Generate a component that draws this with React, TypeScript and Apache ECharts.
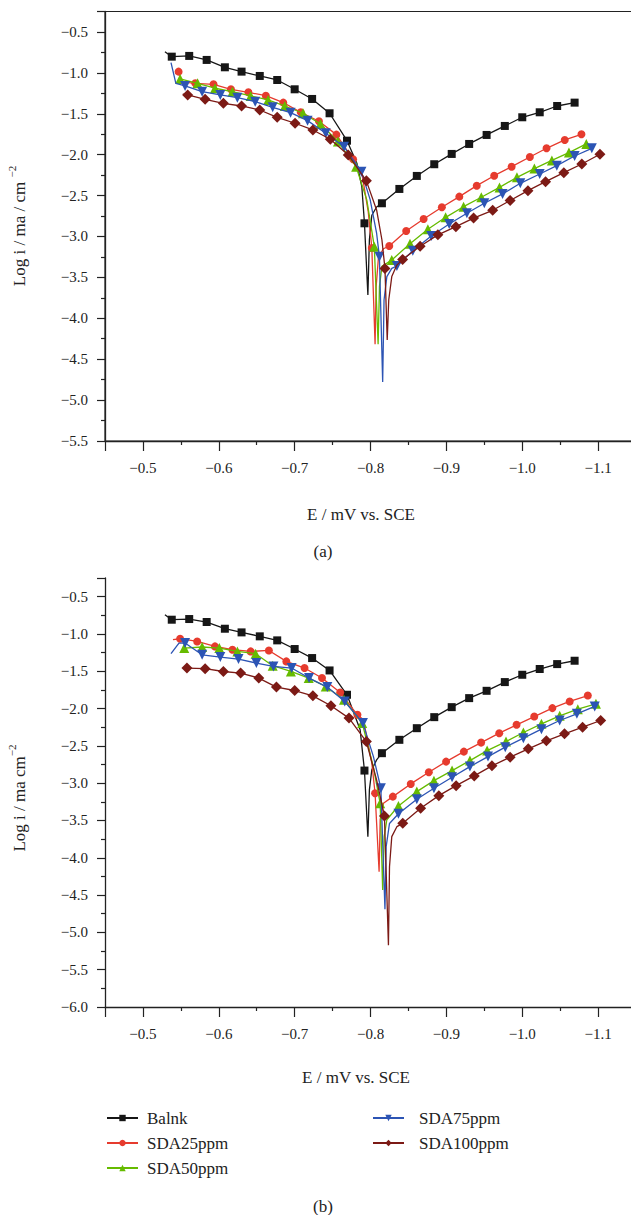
import React, { useEffect, useRef } from "react";
import * as echarts from "echarts";

// ---------- Data (E in V vs SCE, log i) ----------
const seriesNames = ["Balnk", "SDA25ppm", "SDA50ppm", "SDA75ppm", "SDA100ppm"];
const xTicks = [-1.2, -0.45, 0.1]; // min, max, interval
const yTicksA = [-5.5, -0.25, 0.5];
const yTicksB = [-6.0, -0.25, 0.5];

// Panel (a)
const blankA_marks = [[-0.538,-0.802],[-0.561,-0.793],[-0.584,-0.842],[-0.608,-0.932],[-0.630,-0.985],[-0.654,-1.038],[-0.677,-1.087],[-0.700,-1.201],[-0.723,-1.319],[-0.746,-1.494],[-0.769,-1.829],[-0.792,-2.839],[-0.815,-2.594],[-0.838,-2.419],[-0.861,-2.260],[-0.884,-2.117],[-0.907,-1.991],[-0.930,-1.869],[-0.953,-1.759],[-0.977,-1.649],[-1.000,-1.543],[-1.023,-1.482],[-1.046,-1.405],[-1.069,-1.364]];
const blankA_line = [[-0.529,-0.741],[-0.782,-2.105],[-0.7885,-2.39],[-0.7965,-3.715],[-0.7985,-3.04],[-0.8017,-2.74],[-0.808,-2.64]];
const redA_marks = [[-0.547,-0.985],[-0.569,-1.128],[-0.593,-1.140],[-0.616,-1.201],[-0.639,-1.238],[-0.662,-1.279],[-0.685,-1.364],[-0.708,-1.482],[-0.732,-1.592],[-0.755,-1.755],[-0.777,-2.056],[-0.8017,-3.14],[-0.8247,-3.116],[-0.847,-2.933],[-0.870,-2.786],[-0.894,-2.643],[-0.917,-2.513],[-0.940,-2.379],[-0.963,-2.257],[-0.986,-2.147],[-1.010,-2.028],[-1.032,-1.922],[-1.056,-1.820],[-1.078,-1.751]];
const redA_line = [[-0.5513,-1.11],[-0.789,-2.25],[-0.797,-2.7],[-0.806,-4.318],[-0.8074,-3.61],[-0.8105,-3.25],[-0.817,-3.15]];
const greenA_marks = [[-0.549,-1.075],[-0.572,-1.128],[-0.595,-1.188],[-0.618,-1.230],[-0.642,-1.282],[-0.665,-1.331],[-0.687,-1.405],[-0.711,-1.494],[-0.734,-1.625],[-0.757,-1.84],[-0.781,-2.147],[-0.805,-3.125],[-0.828,-3.287],[-0.852,-3.09],[-0.8756,-2.912],[-0.899,-2.766],[-0.9226,-2.636],[-0.946,-2.52],[-0.970,-2.40],[-0.993,-2.277],[-1.016,-2.17],[-1.039,-2.07],[-1.0615,-1.975],[-1.0844,-1.869]];
const greenA_line = [[-0.795,-2.55],[-0.810,-4.318],[-0.8118,-3.61],[-0.815,-3.365]];
const blueA_marks = [[-0.5555,-1.160],[-0.578,-1.230],[-0.602,-1.270],[-0.6245,-1.303],[-0.648,-1.352],[-0.671,-1.421],[-0.6946,-1.487],[-0.717,-1.584],[-0.741,-1.738],[-0.765,-1.902],[-0.788,-2.208],[-0.8117,-3.247],[-0.8347,-3.361],[-0.8557,-3.174],[-0.880,-2.994],[-0.9037,-2.847],[-0.927,-2.716],[-0.950,-2.594],[-0.974,-2.48],[-0.9974,-2.35],[-1.023,-2.236],[-1.0455,-2.134],[-1.069,-2.016],[-1.0917,-1.922]];
const blueA_line = [[-0.537,-0.875],[-0.5434,-1.128],[-0.7995,-2.55],[-0.808,-2.96],[-0.816,-4.78],[-0.8178,-3.776],[-0.8215,-3.49],[-0.828,-3.39]];
const maroonA_marks = [[-0.559,-1.270],[-0.582,-1.323],[-0.606,-1.372],[-0.630,-1.405],[-0.654,-1.454],[-0.677,-1.543],[-0.7005,-1.616],[-0.724,-1.698],[-0.747,-1.812],[-0.7706,-2.004],[-0.7945,-2.32],[-0.819,-3.39],[-0.8423,-3.28],[-0.8654,-3.12],[-0.8888,-2.98],[-0.9125,-2.88],[-0.9358,-2.775],[-0.961,-2.68],[-0.984,-2.56],[-1.0075,-2.44],[-1.0307,-2.33],[-1.0548,-2.22],[-1.0785,-2.114],[-1.1024,-1.995]];
const maroonA_line = [[-0.5525,-1.26],[-0.808,-2.676],[-0.815,-3.04],[-0.822,-4.265],[-0.824,-3.776],[-0.828,-3.49],[-0.8347,-3.35]];

// Panel (b)
const blankB_marks = [[-0.538,-0.809],[-0.561,-0.800],[-0.584,-0.840],[-0.608,-0.930],[-0.630,-0.979],[-0.654,-1.032],[-0.677,-1.086],[-0.700,-1.202],[-0.723,-1.323],[-0.746,-1.489],[-0.769,-1.815],[-0.792,-2.831],[-0.815,-2.598],[-0.838,-2.419],[-0.861,-2.263],[-0.884,-2.115],[-0.907,-1.981],[-0.930,-1.860],[-0.953,-1.762],[-0.977,-1.645],[-1.000,-1.547],[-1.023,-1.470],[-1.046,-1.404],[-1.069,-1.359]];
const blankB_line = [[-0.529,-0.742],[-0.7863,-2.285],[-0.7965,-3.717],[-0.7985,-3.09],[-0.8017,-2.82],[-0.808,-2.688]];
const redB_marks = [[-0.549,-1.064],[-0.5715,-1.100],[-0.595,-1.167],[-0.618,-1.211],[-0.642,-1.234],[-0.666,-1.221],[-0.689,-1.368],[-0.713,-1.457],[-0.736,-1.591],[-0.760,-1.785],[-0.7827,-2.084],[-0.806,-3.135],[-0.8294,-3.18],[-0.853,-3.01],[-0.8768,-2.853],[-0.8996,-2.711],[-0.923,-2.577],[-0.9458,-2.456],[-0.9697,-2.330],[-0.9925,-2.218],[-1.0158,-2.107],[-1.0397,-1.994],[-1.0625,-1.905],[-1.0864,-1.825]];
const redB_line = [[-0.5396,-1.077],[-0.7907,-2.15],[-0.8017,-2.73],[-0.8113,-4.187],[-0.8127,-3.49],[-0.817,-3.27]];
const greenB_marks = [[-0.5545,-1.189],[-0.578,-1.175],[-0.6007,-1.189],[-0.6245,-1.234],[-0.6485,-1.265],[-0.671,-1.426],[-0.695,-1.503],[-0.7185,-1.591],[-0.741,-1.704],[-0.765,-1.883],[-0.789,-2.195],[-0.8127,-3.27],[-0.8368,-3.305],[-0.861,-3.113],[-0.8836,-2.966],[-0.9075,-2.831],[-0.931,-2.697],[-0.9537,-2.563],[-0.9786,-2.442],[-1.0015,-2.321],[-1.0253,-2.205],[-1.0493,-2.097],[-1.0732,-2.008],[-1.0971,-1.936]];
const greenB_line = [[-0.8037,-2.78],[-0.816,-4.43],[-0.818,-3.717],[-0.8215,-3.49]];
const blueB_marks = [[-0.5555,-1.122],[-0.578,-1.279],[-0.602,-1.310],[-0.626,-1.336],[-0.6495,-1.390],[-0.672,-1.435],[-0.696,-1.457],[-0.719,-1.591],[-0.743,-1.712],[-0.766,-1.905],[-0.790,-2.195],[-0.8136,-3.068],[-0.8368,-3.41],[-0.861,-3.216],[-0.8836,-3.068],[-0.9075,-2.920],[-0.931,-2.778],[-0.9548,-2.644],[-0.9776,-2.517],[-1.0015,-2.397],[-1.0253,-2.276],[-1.0493,-2.160],[-1.072,-2.070],[-1.0955,-1.972]];
const blueB_line = [[-0.537,-1.265],[-0.5475,-1.122],[-0.8038,-2.644],[-0.819,-4.69],[-0.8206,-3.85],[-0.825,-3.54]];
const maroonB_marks = [[-0.558,-1.457],[-0.582,-1.466],[-0.606,-1.503],[-0.6288,-1.524],[-0.6527,-1.591],[-0.676,-1.712],[-0.700,-1.758],[-0.724,-1.829],[-0.7478,-1.963],[-0.7716,-2.128],[-0.7945,-2.442],[-0.8183,-3.44],[-0.8425,-3.538],[-0.866,-3.336],[-0.890,-3.167],[-0.9128,-3.033],[-0.9367,-2.903],[-0.960,-2.768],[-0.984,-2.652],[-1.0079,-2.540],[-1.0318,-2.433],[-1.0557,-2.339],[-1.0795,-2.249],[-1.1034,-2.160]];
const maroonB_line = [[-0.808,-2.956],[-0.8236,-5.171],[-0.825,-4.12],[-0.828,-3.717],[-0.8347,-3.583]];

const panelA = [[blankA_marks, blankA_line],[redA_marks, redA_line],[greenA_marks, greenA_line],[blueA_marks, blueA_line],[maroonA_marks, maroonA_line]];
const panelB = [[blankB_marks, blankB_line],[redB_marks, redB_line],[greenB_marks, greenB_line],[blueB_marks, blueB_line],[maroonB_marks, maroonB_line]];

// ---------- Styles ----------
const COLORS = ["#161616", "#e63b2e", "#66bb00", "#2c54b4", "#7c1a15"];
const SYMBOLS = ["rect", "circle", "triangle", "triangle", "diamond"];
const SYMROT = [0, 0, 0, 180, 0];
const SYMSIZE = [8, 8, 10, 10, 11];
const FONT = "Liberation Serif";
const AXIS_COLOR = "#222";

function buildData(marks: number[][], line: number[][]) {
  const pts = [
    ...marks.map((p) => ({ v: p, m: true })),
    ...line.map((p) => ({ v: p, m: false })),
  ];
  pts.sort((a, b) => b.v[0] - a.v[0]);
  return pts.map((p) => (p.m ? { value: p.v } : { value: p.v, symbol: "none" }));
}

const fmt = (v: number) => v.toFixed(1).replace("-", "\u2212");

function xAxisFor(gi: number) {
  return {
    type: "value",
    gridIndex: gi,
    min: xTicks[0],
    max: xTicks[1],
    interval: xTicks[2],
    inverse: true,
    axisLine: { show: true, onZero: false, lineStyle: { color: AXIS_COLOR, width: 1.3 } },
    axisTick: { show: true, length: 10, lineStyle: { color: AXIS_COLOR, width: 1.2 } },
    minorTick: { show: true, splitNumber: 2, length: 4, lineStyle: { color: AXIS_COLOR, width: 1.2 } },
    splitLine: { show: false },
    minorSplitLine: { show: false },
    axisLabel: {
      show: true,
      margin: 19,
      showMaxLabel: false,
      showMinLabel: false,
      color: "#222",
      fontSize: 15,
      fontFamily: FONT,
      formatter: fmt,
    },
  };
}

function yAxisFor(gi: number, t: number[]) {
  return {
    type: "value",
    gridIndex: gi,
    min: t[0],
    max: t[1],
    interval: t[2],
    axisLine: { show: true, onZero: false, lineStyle: { color: AXIS_COLOR, width: 1.3 } },
    axisTick: { show: true, length: 8, lineStyle: { color: AXIS_COLOR, width: 1.2 } },
    minorTick: { show: true, splitNumber: 2, length: 4, lineStyle: { color: AXIS_COLOR, width: 1.2 } },
    splitLine: { show: false },
    minorSplitLine: { show: false },
    axisLabel: {
      show: true,
      margin: 17,
      showMaxLabel: false,
      color: "#222",
      fontSize: 15,
      fontFamily: FONT,
      formatter: fmt,
    },
  };
}

function seriesFor(panel: number[][][][], gi: number) {
  return panel.map(([marks, line], i) => ({
    type: "line",
    name: seriesNames[i],
    xAxisIndex: gi,
    yAxisIndex: gi,
    data: buildData(marks, line),
    symbol: SYMBOLS[i],
    symbolRotate: SYMROT[i],
    symbolSize: SYMSIZE[i],
    showSymbol: true,
    lineStyle: { color: COLORS[i], width: 1.3 },
    itemStyle: { color: COLORS[i] },
    emphasis: { disabled: true },
    z: 2 + i,
  }));
}

const textStyleBase = { fill: "#222", fontFamily: FONT, fontSize: 17, align: "center", verticalAlign: "middle" };

const legendBase = {
  orient: "vertical",
  top: 1109,
  padding: 0,
  itemWidth: 31,
  itemHeight: 8,
  itemGap: 7,
  selectedMode: false,
};

export default function App() {
  const ref = useRef<HTMLDivElement>(null);
  useEffect(() => {
    if (!ref.current) return;
    const chart = echarts.init(ref.current, null, { renderer: "svg" });
    const option: any = {
      animation: false,
      backgroundColor: "#ffffff",
      textStyle: { fontFamily: FONT },
      grid: [
        { left: 105, top: 11.5, width: 569, height: 429.5, show: true, borderColor: AXIS_COLOR, borderWidth: 1.2, backgroundColor: "transparent", containLabel: false, outerBoundsMode: "none" },
        { left: 105, top: 578, width: 569, height: 429, containLabel: false, outerBoundsMode: "none" },
      ],
      xAxis: [xAxisFor(0), xAxisFor(1)],
      yAxis: [yAxisFor(0, yTicksA), yAxisFor(1, yTicksB)],
      legend: [
        {
          ...legendBase,
          data: seriesNames.slice(0, 3),
          left: 106,
          textStyle: { fontFamily: FONT, fontSize: 17, color: "#222", lineHeight: 18, padding: [0, 0, 0, 4] },
        },
        {
          ...legendBase,
          data: seriesNames.slice(3),
          left: 372,
          textStyle: { fontFamily: FONT, fontSize: 17, color: "#222", lineHeight: 18, padding: [0, 0, 0, 10] },
        },
      ],
      graphic: [
        { type: "text", x: 361, y: 514, style: { ...textStyleBase, text: "E / mV vs. SCE" } },
        { type: "text", x: 356, y: 1077, style: { ...textStyleBase, text: "E / mV vs. SCE" } },
        { type: "text", x: 323, y: 551, style: { ...textStyleBase, text: "(a)" } },
        { type: "text", x: 323, y: 1206, style: { ...textStyleBase, text: "(b)" } },
        {
          type: "text",
          x: 17,
          y: 226,
          rotation: Math.PI / 2,
          style: {
            ...textStyleBase,
            text: "{n|Log i / ma / cm }{s|\u22122}",
            rich: {
              n: { fontFamily: FONT, fontSize: 17, fill: "#222", lineHeight: 22, verticalAlign: "bottom" },
              s: { fontFamily: FONT, fontSize: 11, fill: "#222", lineHeight: 22, verticalAlign: "top" },
            },
          },
        },
        {
          type: "text",
          x: 17,
          y: 798,
          rotation: Math.PI / 2,
          style: {
            ...textStyleBase,
            text: "{n|Log i / ma cm}{s|\u22122}",
            rich: {
              n: { fontFamily: FONT, fontSize: 17, fill: "#222", lineHeight: 22, verticalAlign: "bottom" },
              s: { fontFamily: FONT, fontSize: 11, fill: "#222", lineHeight: 22, verticalAlign: "top" },
            },
          },
        },
      ],
      series: [...seriesFor(panelA, 0), ...seriesFor(panelB, 1)],
    };
    chart.setOption(option);
    return () => chart.dispose();
  }, []);
  return (
    <div style={{ position: "absolute", left: 0, top: 0, width: 631, height: 1215, overflow: "hidden", background: "#fff" }}>
      <div ref={ref} style={{ width: 631, height: 1215 }} />
    </div>
  );
}
